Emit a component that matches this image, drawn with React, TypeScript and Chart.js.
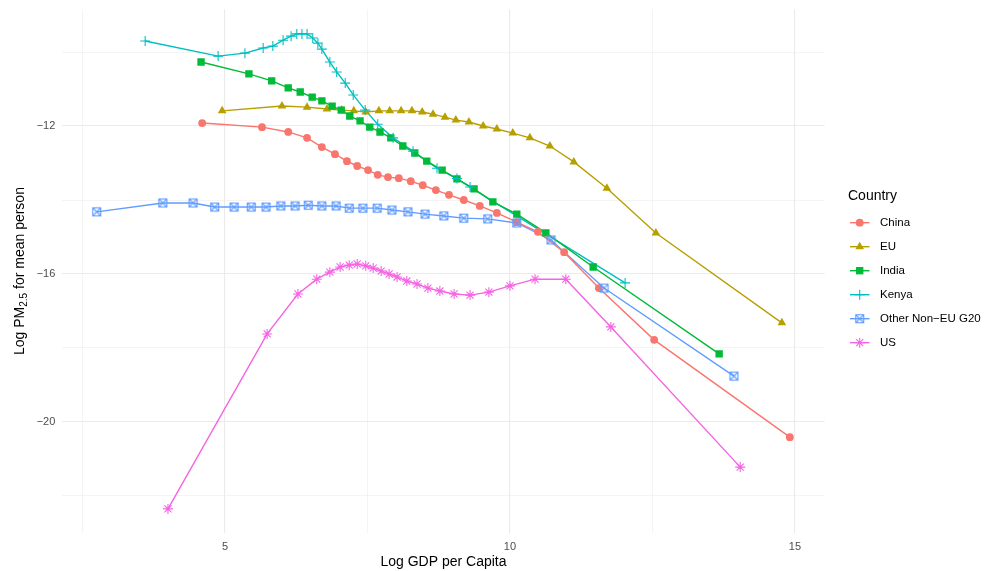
import React, { useEffect, useRef } from 'react';
import { Chart, registerables } from 'chart.js';

Chart.register(...registerables);

const FONT = "'Liberation Sans', Arial, Helvetica, sans-serif";

const countries = ['China', 'EU', 'India', 'Kenya', 'Other Non\u2212EU G20', 'US'];
const colors = ['#F8766D', '#B79F00', '#00BA38', '#00BFC4', '#619CFF', '#F564E3'];
const shapes = ['circle', 'triangle', 'rect', 'cross', 'squarecross', 'star'];

const chinaX = [4.60, 5.65, 6.11, 6.44, 6.70, 6.93, 7.14, 7.32, 7.51, 7.68, 7.86, 8.05, 8.26, 8.47, 8.70, 8.93, 9.19, 9.47, 9.77, 10.12, 10.49, 10.95, 11.56, 12.53, 14.91];
const chinaY = [-11.92, -12.03, -12.16, -12.32, -12.57, -12.76, -12.95, -13.08, -13.19, -13.32, -13.38, -13.41, -13.49, -13.60, -13.73, -13.86, -14.00, -14.16, -14.35, -14.60, -14.86, -15.41, -16.38, -17.78, -20.41];

const euX = [4.95, 6.00, 6.44, 6.79, 7.05, 7.26, 7.47, 7.70, 7.89, 8.09, 8.28, 8.46, 8.65, 8.86, 9.05, 9.28, 9.53, 9.77, 10.05, 10.35, 10.70, 11.12, 11.70, 12.56, 14.77];
const euY = [-11.59, -11.46, -11.49, -11.54, -11.57, -11.59, -11.62, -11.59, -11.59, -11.59, -11.59, -11.62, -11.68, -11.76, -11.84, -11.89, -12.00, -12.08, -12.19, -12.32, -12.54, -12.97, -13.68, -14.89, -17.32];

const indiaX = [4.58, 5.42, 5.82, 6.11, 6.32, 6.53, 6.70, 6.88, 7.04, 7.19, 7.37, 7.54, 7.72, 7.91, 8.12, 8.33, 8.54, 8.81, 9.07, 9.37, 9.70, 10.12, 10.63, 11.46, 13.67];
const indiaY = [-10.27, -10.59, -10.78, -10.97, -11.08, -11.22, -11.32, -11.46, -11.57, -11.73, -11.86, -12.03, -12.16, -12.32, -12.54, -12.73, -12.95, -13.19, -13.43, -13.70, -14.05, -14.38, -14.89, -15.81, -18.16];

const kenyaX = [3.60, 4.88, 5.35, 5.67, 5.84, 6.02, 6.16, 6.26, 6.35, 6.44, 6.54, 6.63, 6.70, 6.84, 6.96, 7.11, 7.25, 7.46, 7.68, 7.95, 8.30, 8.72, 9.07, 9.30, 12.02];
const kenyaY = [-9.70, -10.11, -10.03, -9.89, -9.84, -9.68, -9.57, -9.51, -9.51, -9.51, -9.62, -9.76, -9.92, -10.27, -10.54, -10.84, -11.16, -11.57, -11.95, -12.32, -12.68, -13.14, -13.42, -13.65, -16.24];

const otherX = [2.75, 3.91, 4.44, 4.82, 5.16, 5.46, 5.72, 5.98, 6.23, 6.46, 6.70, 6.95, 7.18, 7.42, 7.67, 7.93, 8.21, 8.51, 8.84, 9.19, 9.61, 10.12, 10.72, 11.65, 13.93];
const otherY = [-14.32, -14.08, -14.08, -14.19, -14.19, -14.19, -14.19, -14.16, -14.16, -14.14, -14.16, -14.16, -14.22, -14.22, -14.22, -14.27, -14.32, -14.38, -14.43, -14.49, -14.51, -14.62, -15.08, -16.38, -18.76];

const usX = [4.00, 5.74, 6.28, 6.61, 6.84, 7.02, 7.18, 7.32, 7.47, 7.60, 7.74, 7.88, 8.02, 8.19, 8.37, 8.56, 8.77, 9.02, 9.30, 9.63, 10.00, 10.44, 10.98, 11.77, 14.04];
const usY = [-22.35, -17.62, -16.54, -16.14, -15.95, -15.81, -15.76, -15.73, -15.78, -15.84, -15.92, -16.00, -16.08, -16.19, -16.27, -16.38, -16.46, -16.54, -16.57, -16.49, -16.32, -16.14, -16.14, -17.43, -21.22];

const seriesX = [chinaX, euX, indiaX, kenyaX, otherX, usX];
const seriesY = [chinaY, euY, indiaY, kenyaY, otherY, usY];

const xGridValues = [2.5, 5, 7.5, 10, 12.5, 15];
const xTickLabels = [5, 10, 15];
const yGridValues = [-22, -20, -18, -16, -14, -12, -10];
const yTickLabels = [-20, -16, -12];

const X_MIN = 2.146;
const X_MAX = 15.52;
const Y_MIN = -22.99;
const Y_MAX = -8.85;

const xTitle = 'Log GDP per Capita';
const legendTitle = 'Country';

const fmt = (v: number) => (v < 0 ? '\u2212' + Math.abs(v) : String(v));

const SIZES: Record<string, number> = { circle: 3.9, triangle: 5.0, rect: 5.2, cross: 5.0, squarecross: 0, star: 5.0 };

function makeSquareCross(color: string) {
  const c = document.createElement('canvas');
  c.width = 11;
  c.height = 11;
  const g = c.getContext('2d')!;
  g.strokeStyle = color;
  g.lineWidth = 1.1;
  g.strokeRect(1.5, 1.5, 8, 8);
  g.beginPath();
  g.moveTo(1.5, 1.5);
  g.lineTo(9.5, 9.5);
  g.moveTo(9.5, 1.5);
  g.lineTo(1.5, 9.5);
  g.stroke();
  return c;
}

function drawMarker(ctx: CanvasRenderingContext2D, shape: string, x: number, y: number, color: string, sqc: HTMLCanvasElement) {
  ctx.save();
  ctx.fillStyle = color;
  ctx.strokeStyle = color;
  ctx.lineWidth = 1.1;
  const r = SIZES[shape];
  if (shape === 'circle') {
    ctx.beginPath();
    ctx.arc(x, y, r, 0, Math.PI * 2);
    ctx.fill();
  } else if (shape === 'triangle') {
    ctx.beginPath();
    let a = 0;
    ctx.moveTo(x + Math.sin(a) * r, y - Math.cos(a) * r);
    a += (2 * Math.PI) / 3;
    ctx.lineTo(x + Math.sin(a) * r, y - Math.cos(a) * r);
    a += (2 * Math.PI) / 3;
    ctx.lineTo(x + Math.sin(a) * r, y - Math.cos(a) * r);
    ctx.closePath();
    ctx.fill();
  } else if (shape === 'rect') {
    const s = r * Math.SQRT1_2;
    ctx.fillRect(x - s, y - s, 2 * s, 2 * s);
  } else if (shape === 'cross') {
    ctx.beginPath();
    ctx.moveTo(x - r, y);
    ctx.lineTo(x + r, y);
    ctx.moveTo(x, y - r);
    ctx.lineTo(x, y + r);
    ctx.stroke();
  } else if (shape === 'squarecross') {
    ctx.drawImage(sqc, x - sqc.width / 2, y - sqc.height / 2);
  } else if (shape === 'star') {
    const d = r * Math.SQRT1_2;
    ctx.beginPath();
    ctx.moveTo(x - r, y);
    ctx.lineTo(x + r, y);
    ctx.moveTo(x, y - r);
    ctx.lineTo(x, y + r);
    ctx.moveTo(x - d, y - d);
    ctx.lineTo(x + d, y + d);
    ctx.moveTo(x + d, y - d);
    ctx.lineTo(x - d, y + d);
    ctx.stroke();
  }
  ctx.restore();
}

export default function App() {
  const ref = useRef<HTMLCanvasElement | null>(null);

  useEffect(() => {
    if (!ref.current) return;
    const sqc = makeSquareCross(colors[4]);

    const datasets: any[] = [];
    seriesX.forEach((xs, i) => {
      datasets.push({
        label: countries[i] + ' line',
        data: xs.map((x, j) => ({ x, y: seriesY[i][j] })),
        showLine: true,
        borderColor: colors[i],
        backgroundColor: colors[i],
        borderWidth: 1.4,
        pointRadius: 0,
        pointHoverRadius: 0,
        tension: 0,
        order: 100 + i,
      });
    });
    seriesX.forEach((xs, i) => {
      const shape = shapes[i];
      const filled = shape === 'circle' || shape === 'triangle' || shape === 'rect';
      const radius = shape === 'squarecross' ? 5 : SIZES[shape];
      datasets.push({
        label: countries[i],
        data: xs.map((x, j) => ({ x, y: seriesY[i][j] })),
        showLine: false,
        pointStyle: shape === 'squarecross' ? sqc : shape,
        pointRadius: radius,
        pointHoverRadius: radius,
        pointBackgroundColor: colors[i],
        pointBorderColor: colors[i],
        pointBorderWidth: filled ? 0 : 1.1,
        order: 10 - i,
      });
    });

    const titlesPlugin = {
      id: 'titlesLegend',
      afterDraw(chart: any) {
        const ctx: CanvasRenderingContext2D = chart.ctx;
        const area = chart.chartArea;
        ctx.save();
        ctx.fillStyle = '#000000';
        ctx.font = `14px ${FONT}`;
        ctx.textAlign = 'center';
        ctx.textBaseline = 'middle';
        ctx.fillText(xTitle, (area.left + area.right) / 2, 562);

        ctx.save();
        ctx.translate(19, (area.top + area.bottom) / 2);
        ctx.rotate(-Math.PI / 2);
        const p1 = 'Log PM';
        const p2 = '2.5';
        const p3 = ' for mean person';
        ctx.font = `14px ${FONT}`;
        const w1 = ctx.measureText(p1).width;
        const w3 = ctx.measureText(p3).width;
        ctx.font = `10px ${FONT}`;
        const w2 = ctx.measureText(p2).width;
        const total = w1 + w2 + w3;
        let sx = -total / 2;
        ctx.textAlign = 'left';
        ctx.textBaseline = 'alphabetic';
        ctx.font = `14px ${FONT}`;
        ctx.fillText(p1, sx, 5);
        sx += w1;
        ctx.font = `10px ${FONT}`;
        ctx.fillText(p2, sx, 8);
        sx += w2;
        ctx.font = `14px ${FONT}`;
        ctx.fillText(p3, sx, 5);
        ctx.restore();

        ctx.textAlign = 'left';
        ctx.textBaseline = 'middle';
        ctx.font = `14px ${FONT}`;
        ctx.fillStyle = '#000000';
        ctx.fillText(legendTitle, 848, 196);
        ctx.font = `11.5px ${FONT}`;
        countries.forEach((name, i) => {
          const y = 222.7 + i * 24;
          ctx.save();
          ctx.strokeStyle = colors[i];
          ctx.lineWidth = 1.4;
          ctx.beginPath();
          ctx.moveTo(850, y);
          ctx.lineTo(869.5, y);
          ctx.stroke();
          ctx.restore();
          drawMarker(ctx, shapes[i], 859.7, y, colors[i], sqc);
          ctx.fillStyle = '#000000';
          ctx.fillText(name, 880, y);
        });
        ctx.restore();
      },
    };

    const chart = new Chart(ref.current, {
      type: 'scatter',
      data: { datasets },
      options: {
        animation: false,
        responsive: false,
        maintainAspectRatio: false,
        devicePixelRatio: 1,
        layout: { padding: { left: 0, top: 9.5, right: 165.4, bottom: 0 } },
        plugins: {
          legend: { display: false },
          tooltip: { enabled: false },
          title: { display: false },
        },
        scales: {
          x: {
            type: 'linear',
            min: X_MIN,
            max: X_MAX,
            afterBuildTicks: (s: any) => {
              s.ticks = xGridValues.map((v) => ({ value: v }));
            },
            afterFit: (s: any) => {
              s.height = 38.4;
              s.paddingLeft = 0;
              s.paddingRight = 0;
              s.paddingTop = 0;
              s.paddingBottom = 0;
            },
            border: { display: false },
            grid: {
              drawTicks: false,
              tickLength: 0,
              color: '#EBEBEB',
              lineWidth: (c: any) => (c.tick && xTickLabels.includes(c.tick.value) ? 1.1 : 0.55),
            },
            ticks: {
              autoSkip: false,
              maxRotation: 0,
              padding: 8,
              color: '#4D4D4D',
              font: { family: FONT, size: 11 },
              callback: (v: any) => (xTickLabels.includes(Number(v)) ? fmt(Number(v)) : ''),
            },
          },
          y: {
            type: 'linear',
            min: Y_MIN,
            max: Y_MAX,
            afterBuildTicks: (s: any) => {
              s.ticks = yGridValues.map((v) => ({ value: v }));
            },
            afterFit: (s: any) => {
              s.width = 62.3;
              s.paddingLeft = 0;
              s.paddingRight = 0;
              s.paddingTop = 0;
              s.paddingBottom = 0;
            },
            border: { display: false },
            grid: {
              drawTicks: false,
              tickLength: 0,
              color: '#EBEBEB',
              lineWidth: (c: any) => (c.tick && yTickLabels.includes(c.tick.value) ? 1.1 : 0.55),
            },
            ticks: {
              autoSkip: false,
              padding: 7,
              color: '#4D4D4D',
              font: { family: FONT, size: 11 },
              callback: (v: any) => (yTickLabels.includes(Number(v)) ? fmt(Number(v)) : ''),
            },
          },
        },
      } as any,
      plugins: [titlesPlugin],
    });

    return () => {
      chart.destroy();
    };
  }, []);

  return (
    <div style={{ position: 'absolute', left: 0, top: 0, width: 990, height: 571, background: '#ffffff' }}>
      <canvas ref={ref} width={990} height={571} style={{ display: 'block', width: 990, height: 571 }} />
    </div>
  );
}
